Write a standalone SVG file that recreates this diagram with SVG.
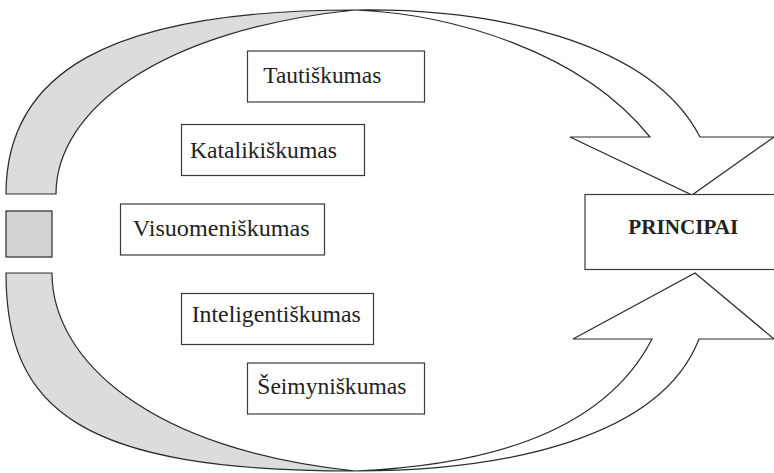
<svg xmlns="http://www.w3.org/2000/svg" width="774" height="473" viewBox="0 0 774 473">
<style>
.band{fill:#dcdcdc;stroke:#2a2a2a;stroke-width:1.2;stroke-linejoin:miter}
.arrow{fill:#ffffff;stroke:#2a2a2a;stroke-width:1.2;stroke-linejoin:miter}
.box{fill:#ffffff;stroke:#3a3a3a;stroke-width:1.2}
.lbl{font-family:"Liberation Serif","Times New Roman",serif;font-size:23px;fill:#222}
.bold{font-weight:bold;font-size:21px}
</style>
<rect width="774" height="473" fill="#ffffff"/>
<g id="connectors">
  <path class="band" d="M6,194 C6,75 105,10 355,10 C160,30 56,110 56,194 Z"/>
  <path class="band" d="M6,273 C6,410 80,471 355,471 C150,450 52,360 52,273 Z"/>
  <path class="arrow" d="M355,10 C490,8 650,40 700,137 L774,137 L692,195 L570,137 L650,137 C580,50 450,14 355,10 Z"/>
  <path class="arrow" d="M355,471 C500,471 660,440 699,339 L774,339 L695,273 L573,339 L652,339 C600,440 470,466 355,471 Z"/>
</g>
<g id="square">
  <rect x="6" y="211" width="46" height="46" fill="#d2d2d2" stroke="#2a2a2a" stroke-width="1.2"/>
</g>
<g id="tautiskumas">
  <rect class="box" x="247.5" y="51" width="177" height="51"/>
  <text class="lbl" x="263.3" y="82.5" textLength="118" lengthAdjust="spacingAndGlyphs">Tautiškumas</text>
</g>
<g id="katalikiskumas">
  <rect class="box" x="181.5" y="124.5" width="183" height="51"/>
  <text class="lbl" x="190" y="158.3" textLength="147" lengthAdjust="spacingAndGlyphs">Katalikiškumas</text>
</g>
<g id="visuomeniskumas">
  <rect class="box" x="120.5" y="204" width="204" height="51"/>
  <text class="lbl" x="132.7" y="235.5" textLength="177" lengthAdjust="spacingAndGlyphs">Visuomeniškumas</text>
</g>
<g id="inteligentiskumas">
  <rect class="box" x="181.5" y="293.5" width="192" height="51"/>
  <text class="lbl" x="191.7" y="321.5" textLength="169" lengthAdjust="spacingAndGlyphs">Inteligentiškumas</text>
</g>
<g id="seimyniskumas">
  <rect class="box" x="247.5" y="363" width="177" height="51"/>
  <text class="lbl" x="257.3" y="394.3" textLength="149" lengthAdjust="spacingAndGlyphs">Šeimyniškumas</text>
</g>
<g id="principai">
  <rect class="box" x="585" y="194.5" width="195" height="75"/>
  <text class="lbl bold" x="628.3" y="234.3" textLength="110" lengthAdjust="spacingAndGlyphs">PRINCIPAI</text>
</g>
</svg>
